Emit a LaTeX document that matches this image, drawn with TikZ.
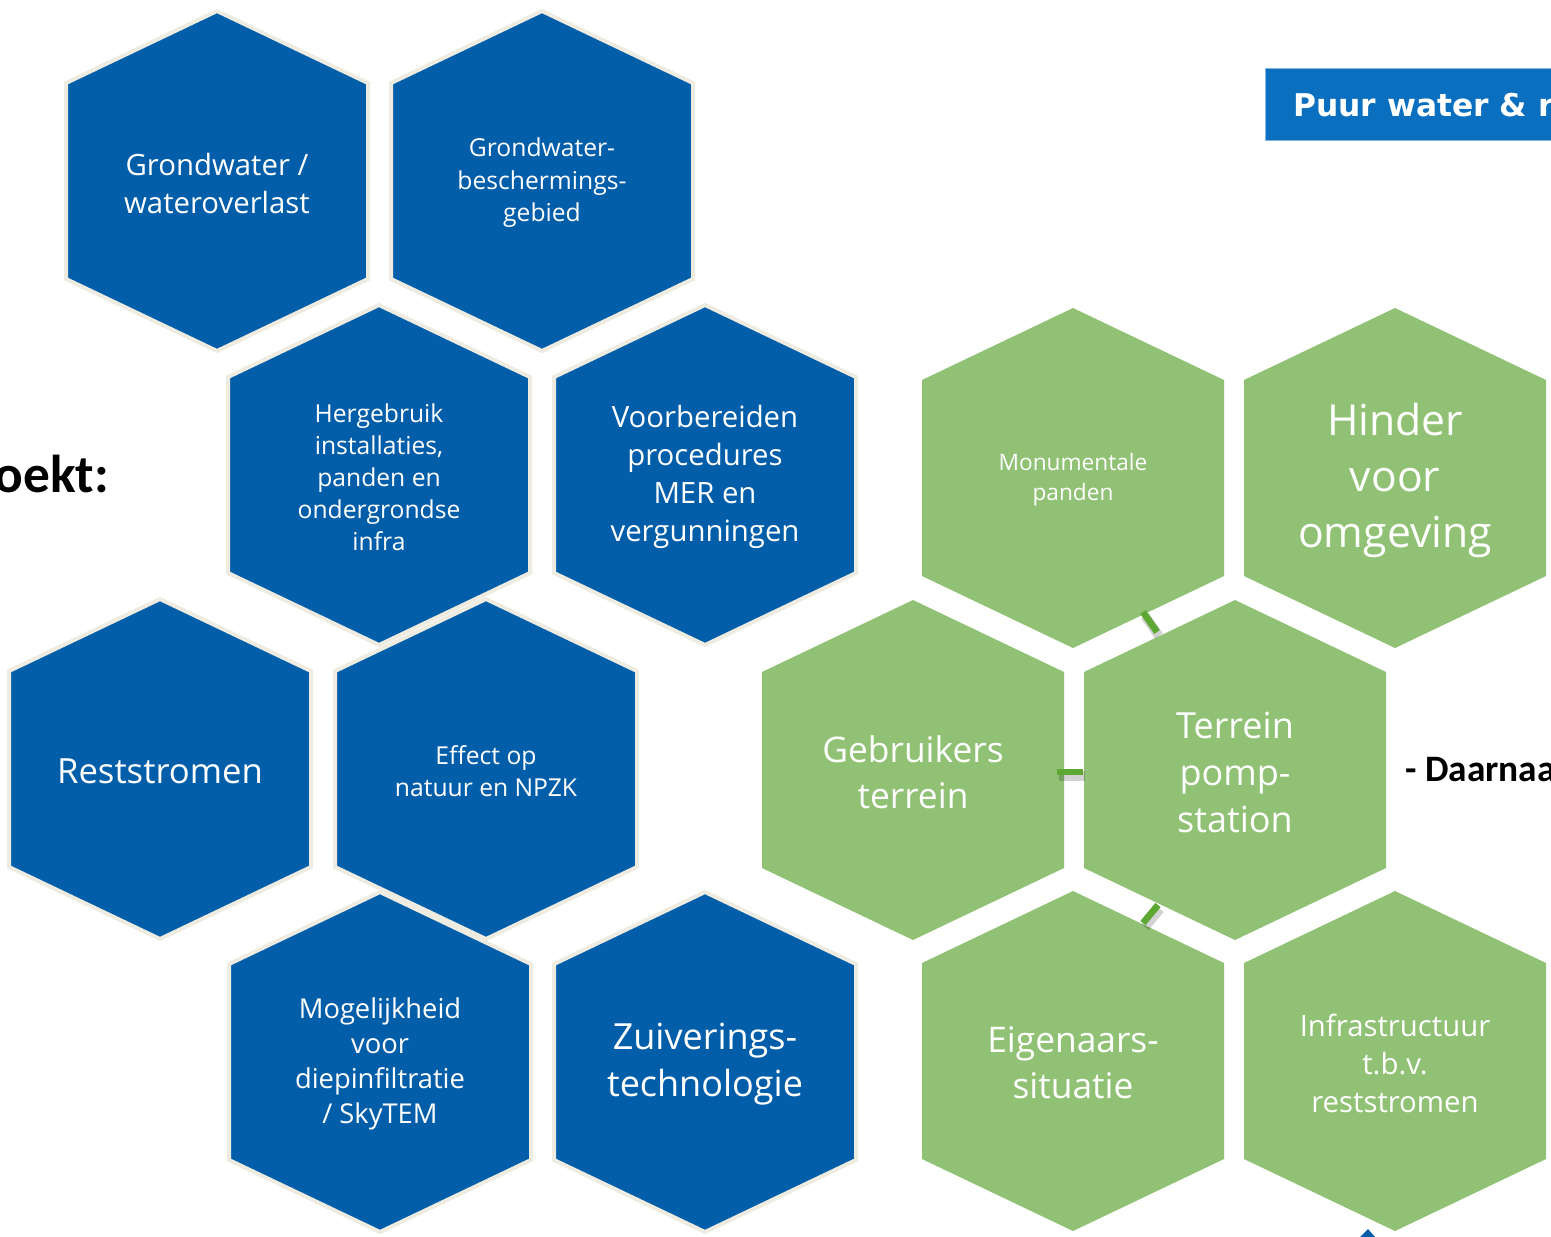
\documentclass[tikz,border=0pt]{standalone}
\usepackage{fontspec}
\setmainfont{Open Sans}
\newfontfamily\calib{Carlito}
\newfontfamily\dejav{DejaVu Sans}
\definecolor{hexblue}{HTML}{035EAA}
\definecolor{hexcream}{HTML}{EEECE1}
\definecolor{hexgreen}{HTML}{90C174}
\definecolor{bargreen}{HTML}{5CA832}
\definecolor{headblue}{HTML}{0A6FBE}
\def\ha{151}\def\hb{170}\def\hs{98}
\newcommand\myhex[7]{%
  \path[#4] ({#2},{#3-\hb}) -- ({#2+\ha},{#3-\hs}) -- ({#2+\ha},{#3+\hs}) -- ({#2},{#3+\hb}) -- ({#2-\ha},{#3+\hs}) -- ({#2-\ha},{#3-\hs}) -- cycle;
  \node[hextext, font=\fontsize{#5}{#6}\selectfont] (#1) at (#2,#3+2) {#7};}
\tikzset{
  bluehex/.style={fill=hexblue, draw=hexcream, line width=3pt, line join=miter},
  greenhex/.style={fill=hexgreen},
  hextext/.style={text=white, align=center, inner sep=0pt},
  linkbar/.style={draw=bargreen, line width=5pt},
  linkshadow/.style={draw=black, opacity=0.18, line width=7pt},
}
\begin{document}
\begin{tikzpicture}[x=0.75pt, y=-0.75pt]
\useasboundingbox (0,0) rectangle (1551,1236);
\clip (0,0) rectangle (1551,1236);
% blue hexagons
\myhex{h1}{217}{181}{bluehex}{22}{28.5}{Grondwater /\\wateroverlast}
\myhex{h2}{542}{181}{bluehex}{18.5}{24.4}{Grondwater-\\beschermings-\\gebied}
\myhex{h3}{379}{475}{bluehex}{18.5}{24}{Hergebruik\\installaties,\\panden en\\ondergrondse\\infra}
\myhex{h4}{705}{475}{bluehex}{22}{28.5}{Voorbereiden\\procedures\\MER en\\vergunningen}
\myhex{h5}{160}{769}{bluehex}{26}{32}{Reststromen}
\myhex{h6}{486}{769}{bluehex}{18.5}{24}{Effect op\\natuur en NPZK}
\myhex{h7}{380}{1062}{bluehex}{20.5}{26.25}{Mogelijkheid\\voor\\diepinfiltratie\\/ SkyTEM}
\myhex{h8}{705}{1062}{bluehex}{27}{35.25}{Zuiverings-\\technologie}
% green hexagons
\myhex{g1}{1073}{478}{greenhex}{17}{22.5}{Monumentale\\panden}
\myhex{g2}{1395}{478}{greenhex}{32}{42}{Hinder\\voor\\omgeving}
\myhex{g3}{913}{770}{greenhex}{26.5}{34.5}{Gebruikers\\terrein}
\myhex{g4}{1235}{770}{greenhex}{27}{35.25}{Terrein\\pomp-\\station}
\myhex{g5}{1073}{1061}{greenhex}{26.5}{34.5}{Eigenaars-\\situatie}
\myhex{g6}{1395}{1061}{greenhex}{22}{28.5}{Infrastructuur\\t.b.v.\\reststromen}
% link bars between green hexagons
\coordinate (l1a) at (1143,612); \coordinate (l1b) at (1157,632);
\coordinate (l2a) at (1057,772); \coordinate (l2b) at (1083,772);
\coordinate (l3a) at (1158,905); \coordinate (l3b) at (1143,923);
\draw[linkshadow] ([shift={(2,4)}]l1a) -- ([shift={(2,4)}]l1b);
\draw[linkshadow] ([shift={(2,4)}]l2a) -- ([shift={(2,4)}]l2b);
\draw[linkshadow] ([shift={(2,4)}]l3a) -- ([shift={(2,4)}]l3b);
\draw[linkbar] (l1a) -- (l1b);
\draw[linkbar] (l2a) -- (l2b);
\draw[linkbar] (l3a) -- (l3b);
% header box
\node[fill=headblue, draw=headblue!50, line width=0.8pt, minimum width=225pt, minimum height=54pt, anchor=north west, inner sep=0pt] (hdr) at (1265,68) {};
\node[anchor=base west, text=white, font=\dejav\bfseries\fontsize{23.5}{28}\selectfont, inner sep=0pt] (hdrtext) at (1293,116) {Puur water \& r};
% side texts
\node[anchor=base east, font=\calib\bfseries\fontsize{40}{48}\selectfont, inner sep=0pt] (oekt) at (109,492) {oekt:};
\node[anchor=base west, font=\calib\bfseries\fontsize{28}{34}\selectfont, inner sep=0pt] (daarnaa) at (1405,781) {- Daarnaa};
% tiny blue tip at bottom
\fill[hexblue] (1360,1237) -- (1368,1229) -- (1375,1237) -- cycle;
\end{tikzpicture}
\end{document}
